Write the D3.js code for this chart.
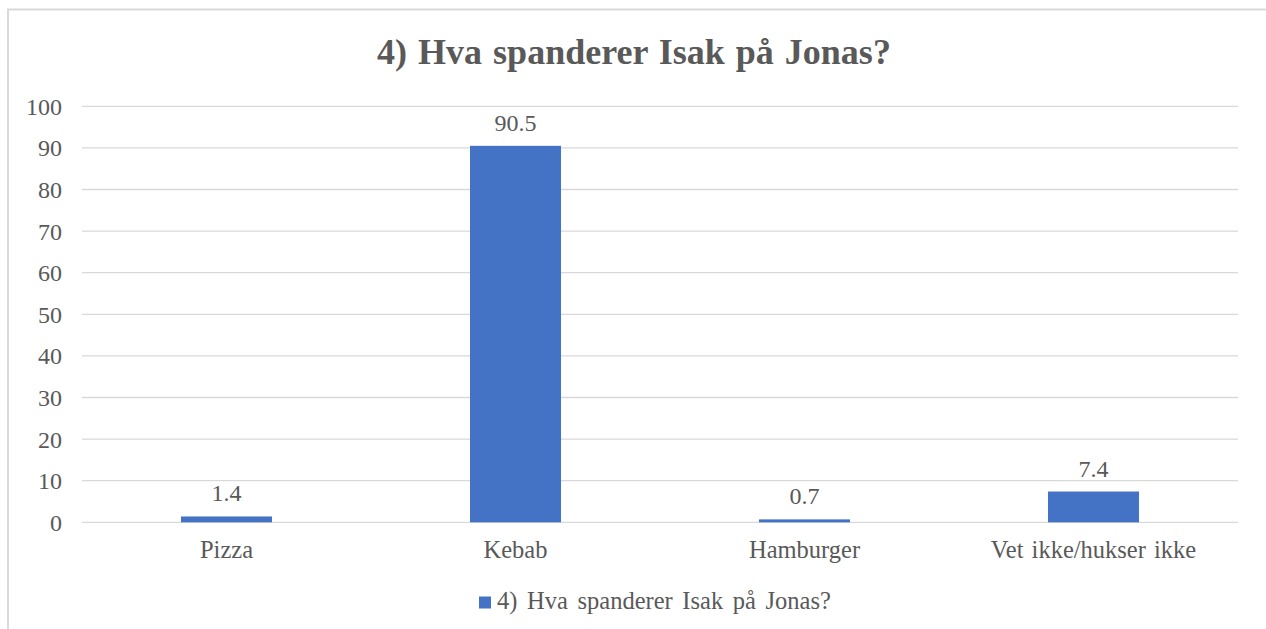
<!DOCTYPE html>
<html><head><meta charset="utf-8">
<script src="https://cdn.jsdelivr.net/npm/d3@7"></script>
<style>html,body{margin:0;padding:0;background:#fff;}svg{display:block;}</style>
</head><body>
<script>
const title = "4) Hva spanderer Isak på Jonas?";
const seriesName = "4) Hva spanderer Isak på Jonas?";
const categories = ["Pizza", "Kebab", "Hamburger", "Vet ikke/hukser ikke"];
const values = [1.4, 90.5, 0.7, 7.4];
const yTicks = [0, 10, 20, 30, 40, 50, 60, 70, 80, 90, 100];

const W = 1266, H = 629;
const font = "Liberation Serif";
const textColor = "#595959";
const fsNum = 24, fsTxt = 24.5;
const svg = d3.select("body").append("svg").attr("width", W).attr("height", H);
svg.append("rect").attr("width", W).attr("height", H).attr("fill", "#fff");
svg.append("rect").attr("x", 8).attr("y", 9.5).attr("width", 1300).attr("height", 700)
  .attr("fill", "none").attr("stroke", "#d9d9d9").attr("stroke-width", 2);

const x0 = 82, x1 = 1238, yTop = 106.3, yBot = 522.3;
const x = d3.scaleBand().domain(categories).range([x0, x1]).paddingInner(0.685).paddingOuter(0.3425);
const y = d3.scaleLinear().domain([0, 100]).range([yBot, yTop]);

svg.append("text").attr("x", 634).attr("y", 64).attr("text-anchor", "middle")
  .style("font-family", font).style("font-weight", "bold").style("font-size", "36px")
  .style("word-spacing", "2px").attr("fill", textColor).text(title);

const g = svg.append("g");
g.selectAll("line.grid").data(yTicks).join("line").attr("class", "grid")
  .attr("x1", x0).attr("x2", x1).attr("y1", d => y(d)).attr("y2", d => y(d))
  .attr("stroke", "#d9d9d9").attr("stroke-width", 1.3);

const yAxis = d3.axisLeft(y).tickValues(yTicks).tickSize(0).tickPadding(0);
const ya = svg.append("g").attr("transform", `translate(62,0)`).call(yAxis);
ya.select(".domain").remove();
ya.selectAll("text").style("font-family", font).style("font-size", fsNum + "px").attr("fill", textColor).attr("dy", "0.33em");

g.selectAll("rect.bar").data(values).join("rect").attr("class", "bar")
  .attr("x", (d, i) => x(categories[i])).attr("width", x.bandwidth())
  .attr("y", d => y(d)).attr("height", d => y(0) - y(d)).attr("fill", "#4472C4");

g.selectAll("text.lbl").data(values).join("text").attr("class", "lbl")
  .attr("x", (d, i) => x(categories[i]) + x.bandwidth() / 2).attr("y", d => y(d) - 15)
  .attr("text-anchor", "middle").style("font-family", font).style("font-size", fsNum + "px")
  .attr("fill", textColor).text(d => d.toFixed(1));

const xAxis = d3.axisBottom(x).tickSize(0).tickPadding(0);
const xa = svg.append("g").attr("transform", `translate(0,${yBot})`).call(xAxis);
xa.select(".domain").remove();
xa.selectAll("text").style("font-family", font).style("font-size", fsTxt + "px").attr("fill", textColor)
  .style("word-spacing", "2px").attr("dy", null).attr("y", 36);

const leg = svg.append("g");
leg.append("rect").attr("x", 479).attr("y", 596.5).attr("width", 12).attr("height", 12).attr("fill", "#4472C4");
leg.append("text").attr("x", 497).attr("y", 609).style("font-family", font).style("font-size", fsTxt + "px")
  .style("word-spacing", "3.5px").attr("fill", textColor).text(seriesName);
</script>
</body></html>
